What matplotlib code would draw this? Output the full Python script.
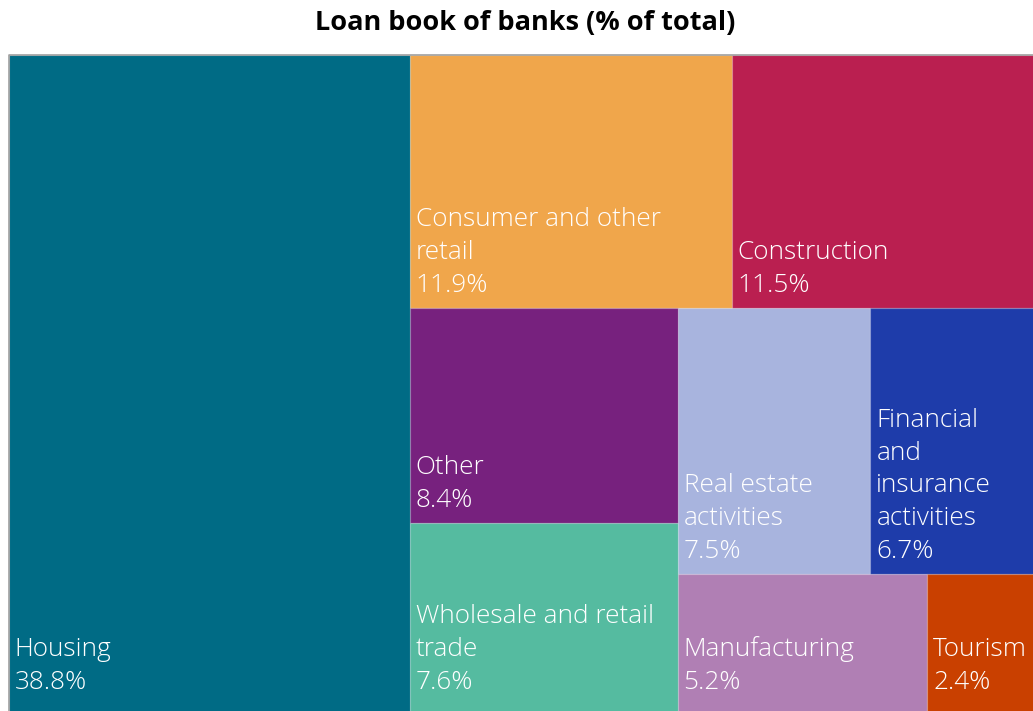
import matplotlib
matplotlib.use("Agg")
import matplotlib.pyplot as plt
from matplotlib.patches import Rectangle

# Loan book composition (% of total)
labels = [
    "Housing",
    "Consumer and other\nretail",
    "Construction",
    "Other",
    "Wholesale and retail\ntrade",
    "Real estate\nactivities",
    "Financial\nand\ninsurance\nactivities",
    "Manufacturing",
    "Tourism",
]
shares = [38.8, 11.9, 11.5, 8.4, 7.6, 7.5, 6.7, 5.2, 2.4]
colors = [
    "#006B85",
    "#F0A64B",
    "#BA1F50",
    "#77217E",
    "#55BBA0",
    "#A8B4DE",
    "#1E3CAA",
    "#B07FB4",
    "#C94000",
]
title = "Loan book of banks (% of total)"


# --- squarified treemap layout (Bruls et al.) ---
def _layout_row(sizes, x, y, dx, dy):
    width = sum(sizes) / dy
    rects = []
    for s in sizes:
        h = s / width
        rects.append((x, y, width, h))
        y += h
    return rects


def _layout_col(sizes, x, y, dx, dy):
    height = sum(sizes) / dx
    rects = []
    for s in sizes:
        w = s / height
        rects.append((x, y, w, height))
        x += w
    return rects


def _layout(sizes, x, y, dx, dy):
    return _layout_row(sizes, x, y, dx, dy) if dx >= dy else _layout_col(sizes, x, y, dx, dy)


def _leftover(sizes, x, y, dx, dy):
    covered = sum(sizes)
    if dx >= dy:
        w = covered / dy
        return x + w, y, dx - w, dy
    h = covered / dx
    return x, y + h, dx, dy - h


def _worst(sizes, x, y, dx, dy):
    return max(max(w / h, h / w) for (_, _, w, h) in _layout(sizes, x, y, dx, dy))


def squarify(sizes, x, y, dx, dy):
    if not sizes:
        return []
    if len(sizes) == 1:
        return _layout(sizes, x, y, dx, dy)
    i = 1
    while i < len(sizes) and _worst(sizes[:i], x, y, dx, dy) >= _worst(sizes[:i + 1], x, y, dx, dy):
        i += 1
    cur, rest = sizes[:i], sizes[i:]
    return _layout(cur, x, y, dx, dy) + squarify(rest, *_leftover(cur, x, y, dx, dy))


# Canvas for the treemap in pixel-like units; the visible window crops it slightly
W, H = 1034.0, 662.0
VIS_W, VIS_H = 1024.5, 656.0
total = sum(shares)
areas = [v * W * H / total for v in shares]
rects = squarify(areas, 0.0, 0.0, W, H)

plt.rcParams["font.family"] = ["Open Sans", "DejaVu Sans"]

fig = plt.figure(figsize=(10.33, 7.11), dpi=100)
ax = fig.add_axes([8.5 / 1033, 0.0, VIS_W / 1033, VIS_H / 711])
ax.set_xlim(0, VIS_W)
ax.set_ylim(VIS_H, 0)
ax.axis("off")

for (x, y, w, h), lab, val, col in zip(rects, labels, shares, colors):
    ax.add_patch(Rectangle((x, y), w, h, facecolor=col,
                           edgecolor=(1, 1, 1, 0.12), linewidth=1.0))
    # labels sit in the lower-left corner of the visible part of each tile
    if y + h > VIS_H:
        base = VIS_H - 22
    else:
        base = y + h - 16
    ax.text(x + 6, base, f"{lab}\n{val:.1f}%", color="white",
            fontsize=18.8, fontweight="light", ha="left", va="baseline",
            linespacing=1.42)

# thin grey frame on the outer top/left edge
ax.plot([0, 0, VIS_W], [VIS_H, 0, 0], color="#a0a0a0", lw=1.2, clip_on=False)

fig.text(525 / 1033, 1 - 23 / 711, title, ha="center", va="center",
         fontsize=19.5, fontweight="bold", color="black")

fig.savefig("out.png", dpi=100)
